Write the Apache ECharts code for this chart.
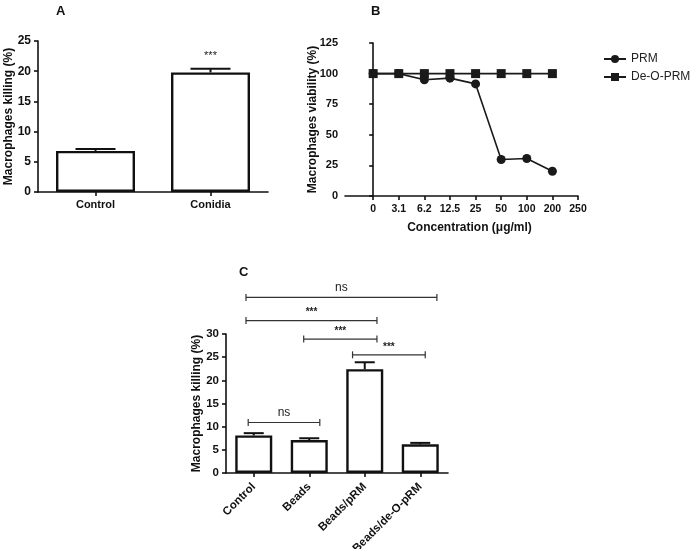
<!DOCTYPE html>
<html><head><meta charset="utf-8">
<script src="https://cdn.jsdelivr.net/npm/echarts@6/dist/echarts.min.js"></script>
<style>html,body{margin:0;padding:0;background:#fff}#c{width:691px;height:549px}</style>
</head><body><div id="c"></div>
<script>
// Panel A
const catsA = ['Control', 'Conidia'];
const valsA = [6.8, 19.8];
const errA = [7.1, 20.4];
// Panel B
const concLabels = ['0', '3.1', '6.2', '12.5', '25', '50', '100', '200', '250'];
const prm = [100, 100, 95, 96.3, 91.6, 29.8, 30.6, 20.2];
const deOprm = [100, 100, 100, 100, 100, 100, 100, 100];
// Panel C
const catsC = ['Control', 'Beads', 'Beads/pRM', 'Beads/de-O-pRM'];
const valsC = [8.1, 7.1, 22.4, 6.2];
const errC = [8.6, 7.5, 23.9, 6.5];
// brackets: [from, to, level, label]
const brackets = [
  [-0.14, 3.3, 37.9, 'ns'],
  [-0.14, 2.22, 32.9, '***'],
  [0.9, 2.22, 28.9, '***'],
  [1.78, 3.09, 25.5, '***'],
  [-0.1, 1.19, 10.9, 'ns']
];

const FF = '"Liberation Sans", Arial, sans-serif';
const axisLine = {show: true, lineStyle: {color: '#111', width: 1.6}};
const axisTick = {show: true, length: 4, lineStyle: {color: '#111', width: 1.6}};
const lblBold = {color: '#111', fontFamily: FF, fontWeight: 'bold', fontSize: 11};
const yName = {fontFamily: FF, fontWeight: 'bold', fontSize: 12, color: '#111'};

function errSeries(xi, yi, vals, errs, capHalf) {
  return {
    type: 'custom', xAxisIndex: xi, yAxisIndex: yi, clip: false, z: 5,
    data: vals.map((v, i) => [i, v, errs[i]]),
    renderItem: function (params, api) {
      const p0 = api.coord([api.value(0), api.value(1)]);
      const p1 = api.coord([api.value(0), api.value(2)]);
      const st = {stroke: '#111', lineWidth: 2};
      return {type: 'group', children: [
        {type: 'line', shape: {x1: p0[0], y1: p0[1], x2: p1[0], y2: p1[1]}, style: st},
        {type: 'line', shape: {x1: p1[0] - capHalf, y1: p1[1], x2: p1[0] + capHalf, y2: p1[1]}, style: st}
      ]};
    }
  };
}

const chart = echarts.init(document.getElementById('c'));
chart.setOption({
  backgroundColor: '#fff',
  animation: false,
  textStyle: {fontFamily: FF},
  title: [
    {text: 'A', left: 51, top: 0, textStyle: {fontSize: 13, fontWeight: 'bold', color: '#111', fontFamily: FF}},
    {text: 'B', left: 366, top: 0, textStyle: {fontSize: 13, fontWeight: 'bold', color: '#111', fontFamily: FF}},
    {text: 'C', left: 234, top: 261, textStyle: {fontSize: 13, fontWeight: 'bold', color: '#111', fontFamily: FF}}
  ],
  legend: {
    left: 598, top: 48, orient: 'vertical', itemGap: 6, itemWidth: 22, itemHeight: 10,
    textStyle: {fontFamily: FF, fontSize: 12, color: '#222'},
    data: ['PRM', 'De-O-PRM']
  },
  grid: [
    {left: 38, top: 41, width: 230, height: 151, outerBoundsMode: 'none'},
    {left: 345, top: 43, width: 233, height: 153, outerBoundsMode: 'none'},
    {left: 226, top: 334, width: 222, height: 139, outerBoundsMode: 'none'},
    {left: 226, top: 334, width: 222, height: 139, outerBoundsMode: 'none'}
  ],
  xAxis: [
    {gridIndex: 0, type: 'category', data: catsA, axisLine, axisTick: Object.assign({alignWithLabel: true}, axisTick),
     axisLabel: Object.assign({margin: 7, fontSize: 11.5}, lblBold)},
    {gridIndex: 1, type: 'value', min: -1.1, max: 8, splitLine: {show: false}, axisLine,
     axisTick: Object.assign({customValues: [0, 1, 2, 3, 4, 5, 6, 7, 8]}, axisTick),
     axisLabel: Object.assign({customValues: [0, 1, 2, 3, 4, 5, 6, 7, 8], margin: 8,
       formatter: v => concLabels[Math.round(v)]}, lblBold, {fontSize: 10.5}),
     name: 'Concentration (\u03bcg/ml)', nameLocation: 'middle', nameGap: 26,
     nameTextStyle: {fontFamily: FF, fontWeight: 'bold', fontSize: 12, color: '#111', padding: [0, 0, 0, 16]}},
    {gridIndex: 2, type: 'category', data: catsC, axisLine, axisTick: Object.assign({alignWithLabel: true}, axisTick),
     axisLabel: Object.assign({rotate: 45, margin: 12, interval: 0}, lblBold, {fontSize: 11.5})},
    {gridIndex: 3, type: 'value', min: -0.5, max: 3.5, show: false}
  ],
  yAxis: [
    {gridIndex: 0, type: 'value', min: 0, max: 25, interval: 5, splitLine: {show: false}, axisLine, axisTick,
     axisLabel: Object.assign({margin: 7}, lblBold, {fontSize: 12}),
     name: 'Macrophages killing (%)', nameLocation: 'middle', nameGap: 23, nameMoveOverlap: false,
     nameTextStyle: yName},
    {gridIndex: 1, type: 'value', min: 0, max: 125, interval: 25, splitLine: {show: false}, axisLine, axisTick,
     axisLabel: Object.assign({margin: 7}, lblBold, {fontSize: 11}),
     name: 'Macrophages viability (%)', nameLocation: 'middle', nameGap: 26, nameMoveOverlap: false,
     nameTextStyle: yName},
    {gridIndex: 2, type: 'value', min: 0, max: 30, interval: 5, splitLine: {show: false}, axisLine, axisTick,
     axisLabel: Object.assign({margin: 7}, lblBold, {fontSize: 11.5}),
     name: 'Macrophages killing (%)', nameLocation: 'middle', nameGap: 23, nameMoveOverlap: false,
     nameTextStyle: yName},
    {gridIndex: 3, type: 'value', min: 0, max: 30, show: false}
  ],
  series: [
    {type: 'bar', xAxisIndex: 0, yAxisIndex: 0, data: valsA, barWidth: 79,
     itemStyle: {color: '#fff', borderColor: '#111', borderWidth: 2.4},
     label: {show: true, position: 'top', distance: 11,
       formatter: p => p.dataIndex === 1 ? '***' : '', color: '#222', fontSize: 11, fontFamily: FF}},
    errSeries(0, 0, valsA, errA, 20),
    {type: 'line', name: 'PRM', xAxisIndex: 1, yAxisIndex: 1, data: prm.map((v, i) => [i, v]),
     symbol: 'circle', symbolSize: 9, lineStyle: {color: '#1a1a1a', width: 1.6},
     itemStyle: {color: '#1a1a1a'}, z: 3},
    {type: 'line', name: 'De-O-PRM', xAxisIndex: 1, yAxisIndex: 1, data: deOprm.map((v, i) => [i, v]),
     symbol: 'rect', symbolSize: 9, lineStyle: {color: '#1a1a1a', width: 1.6},
     itemStyle: {color: '#1a1a1a'}, z: 4},
    {type: 'bar', xAxisIndex: 2, yAxisIndex: 2, data: valsC, barWidth: 37,
     itemStyle: {color: '#fff', borderColor: '#111', borderWidth: 2.4}},
    errSeries(2, 2, valsC, errC, 10),
    {type: 'custom', xAxisIndex: 3, yAxisIndex: 3, clip: false, z: 6,
     data: brackets,
     renderItem: function (params, api) {
       const a = api.coord([api.value(0), api.value(2)]);
       const b = api.coord([api.value(1), api.value(2)]);
       const st = {stroke: '#333', lineWidth: 1.2};
       const lbl = brackets[params.dataIndex][3];
       return {type: 'group', children: [
         {type: 'line', shape: {x1: a[0], y1: a[1], x2: b[0], y2: b[1]}, style: st},
         {type: 'line', shape: {x1: a[0], y1: a[1] - 3.5, x2: a[0], y2: a[1] + 3.5}, style: st},
         {type: 'line', shape: {x1: b[0], y1: b[1] - 3.5, x2: b[0], y2: b[1] + 3.5}, style: st},
         {type: 'text', x: (a[0] + b[0]) / 2, y: a[1] - (lbl === 'ns' ? 4 : 3),
          style: {text: lbl, fill: '#222', fontFamily: FF, fontSize: lbl === 'ns' ? 12 : 10,
                  fontWeight: lbl === 'ns' ? 'normal' : 'bold', align: 'center', verticalAlign: 'bottom'}}
       ]};
     }}
  ]
});
</script></body></html>
